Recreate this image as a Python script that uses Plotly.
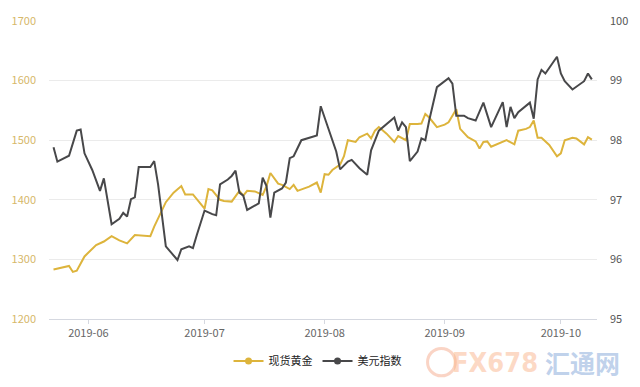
import plotly.graph_objects as go

# ---------------- data ----------------
gold_dates = [
    "2019-05-23", "2019-05-27", "2019-05-28", "2019-05-29", "2019-05-31",
    "2019-06-03", "2019-06-05", "2019-06-07", "2019-06-09", "2019-06-11",
    "2019-06-13", "2019-06-17", "2019-06-18", "2019-06-21", "2019-06-23",
    "2019-06-25", "2019-06-26", "2019-06-28",
    "2019-07-01", "2019-07-02", "2019-07-03", "2019-07-05", "2019-07-06",
    "2019-07-08", "2019-07-10", "2019-07-11", "2019-07-12", "2019-07-14",
    "2019-07-16", "2019-07-17", "2019-07-18", "2019-07-20", "2019-07-21",
    "2019-07-23", "2019-07-24", "2019-07-25", "2019-07-28", "2019-07-30",
    "2019-07-31",
    "2019-08-01", "2019-08-02", "2019-08-03", "2019-08-05", "2019-08-06",
    "2019-08-07", "2019-08-09", "2019-08-10", "2019-08-12", "2019-08-13",
    "2019-08-14", "2019-08-15", "2019-08-17", "2019-08-19", "2019-08-20",
    "2019-08-22", "2019-08-23", "2019-08-25", "2019-08-26", "2019-08-27",
    "2019-08-28", "2019-08-30",
    "2019-09-01", "2019-09-02", "2019-09-04", "2019-09-05", "2019-09-07",
    "2019-09-09", "2019-09-10", "2019-09-11", "2019-09-12", "2019-09-13",
    "2019-09-15", "2019-09-17", "2019-09-19", "2019-09-20", "2019-09-22",
    "2019-09-23", "2019-09-24", "2019-09-25", "2019-09-26", "2019-09-28",
    "2019-09-30",
    "2019-10-01", "2019-10-02", "2019-10-04", "2019-10-05", "2019-10-07",
    "2019-10-08", "2019-10-09",
]
gold_values = [
    1283, 1289, 1279, 1281, 1305,
    1324, 1330, 1339, 1332, 1327,
    1341, 1339, 1355, 1396, 1412,
    1423, 1409, 1409,
    1385, 1418, 1416, 1400, 1398,
    1397, 1415, 1407, 1415, 1414,
    1408, 1423, 1445, 1427, 1425,
    1418, 1425, 1415, 1422, 1429,
    1412,
    1443, 1442, 1450, 1459, 1473,
    1500, 1497, 1505, 1511, 1503,
    1516, 1522, 1511, 1497, 1507,
    1500, 1527, 1527, 1528, 1544,
    1538, 1522,
    1526, 1530, 1552, 1519, 1505,
    1498, 1486, 1497, 1498, 1489,
    1494, 1500, 1493, 1516, 1519,
    1522, 1533, 1504, 1504, 1492,
    1473,
    1478, 1500, 1504, 1503, 1493,
    1505, 1501,
]

usd_dates = [
    "2019-05-23", "2019-05-24", "2019-05-27", "2019-05-29", "2019-05-30",
    "2019-05-31",
    "2019-06-02", "2019-06-04", "2019-06-05", "2019-06-07", "2019-06-09",
    "2019-06-10", "2019-06-11", "2019-06-12", "2019-06-13", "2019-06-14",
    "2019-06-17", "2019-06-18", "2019-06-19", "2019-06-21", "2019-06-24",
    "2019-06-25", "2019-06-27", "2019-06-28", "2019-06-29",
    "2019-07-01", "2019-07-03", "2019-07-04", "2019-07-05", "2019-07-07",
    "2019-07-08", "2019-07-09", "2019-07-10", "2019-07-11", "2019-07-12",
    "2019-07-14", "2019-07-15", "2019-07-16", "2019-07-17", "2019-07-18",
    "2019-07-19", "2019-07-21", "2019-07-22", "2019-07-23", "2019-07-24",
    "2019-07-26", "2019-07-28", "2019-07-30", "2019-07-31",
    "2019-08-02", "2019-08-04", "2019-08-05", "2019-08-07", "2019-08-08",
    "2019-08-10", "2019-08-12", "2019-08-13", "2019-08-15", "2019-08-17",
    "2019-08-19", "2019-08-20", "2019-08-21", "2019-08-22", "2019-08-23",
    "2019-08-25", "2019-08-26", "2019-08-27", "2019-08-28", "2019-08-30",
    "2019-09-01", "2019-09-02", "2019-09-03", "2019-09-04", "2019-09-06",
    "2019-09-07", "2019-09-09", "2019-09-11", "2019-09-13", "2019-09-16",
    "2019-09-17", "2019-09-18", "2019-09-19", "2019-09-20", "2019-09-23",
    "2019-09-24", "2019-09-25", "2019-09-26", "2019-09-27", "2019-09-30",
    "2019-10-01", "2019-10-02", "2019-10-04", "2019-10-07", "2019-10-08",
    "2019-10-09",
]
usd_values = [
    97.88, 97.64, 97.74, 98.16, 98.18,
    97.78,
    97.50, 97.15, 97.36, 96.59, 96.68,
    96.78, 96.72, 97.01, 97.04, 97.55,
    97.55, 97.65, 97.26, 96.22, 95.99,
    96.17, 96.22, 96.19, 96.41,
    96.82, 96.76, 96.74, 97.26, 97.34,
    97.40, 97.49, 97.12, 97.07, 96.83,
    96.90, 96.94, 97.37, 97.23, 96.70,
    97.12, 97.19, 97.29, 97.70, 97.73,
    98.00, 98.04, 98.08, 98.57,
    98.19, 97.81, 97.51, 97.64, 97.67,
    97.53, 97.42, 97.83, 98.16, 98.27,
    98.38, 98.16, 98.30, 98.22, 97.65,
    97.81, 98.03, 98.00, 98.33, 98.89,
    98.99, 99.04, 98.95, 98.41, 98.41,
    98.37, 98.33, 98.63, 98.22, 98.64,
    98.22, 98.56, 98.37, 98.47, 98.63,
    98.36, 99.02, 99.18, 99.12, 99.40,
    99.12, 98.99, 98.85, 98.99, 99.12,
    99.02,
]

series_names = ["现货黄金", "美元指数"]
left_ticks = [1200, 1300, 1400, 1500, 1600, 1700]
right_ticks = [95, 96, 97, 98, 99, 100]
month_ticks = ["2019-06-01", "2019-07-01", "2019-08-01", "2019-09-01", "2019-10-01"]
month_labels = ["2019-06", "2019-07", "2019-08", "2019-09", "2019-10"]

# ---------------- styles ----------------
GOLD = "#ddb43c"
DARK = "#48484a"
FONT = "Noto Sans CJK SC, Noto Sans, sans-serif"

fig = go.Figure()

fig.add_trace(go.Scatter(
    x=gold_dates, y=gold_values, mode="lines", name=series_names[0],
    line=dict(color=GOLD, width=2), yaxis="y", showlegend=False,
))
fig.add_trace(go.Scatter(
    x=usd_dates, y=usd_values, mode="lines", name=series_names[1],
    line=dict(color=DARK, width=2), yaxis="y2", showlegend=False,
))
# legend-only entries (line with marker icon)
fig.add_trace(go.Scatter(
    x=[None], y=[None], mode="lines+markers", name=series_names[0],
    line=dict(color=GOLD, width=2), marker=dict(color=GOLD, size=7),
    yaxis="y",
))
fig.add_trace(go.Scatter(
    x=[None], y=[None], mode="lines+markers", name=series_names[1],
    line=dict(color=DARK, width=2), marker=dict(color=DARK, size=7),
    yaxis="y2",
))

fig.update_layout(
    width=640, height=387,
    margin=dict(l=45, r=42, t=20, b=63),
    paper_bgcolor="white", plot_bgcolor="white",
    font=dict(family=FONT, size=11, color="#666"),
    xaxis=dict(
        type="date",
        range=["2019-05-21 20:00", "2019-10-10 08:00"],
        tickvals=month_ticks, ticktext=month_labels,
        showgrid=False, zeroline=False,
        showline=True, linecolor="#d5d8e0", linewidth=1,
        ticks="outside", ticklen=4, tickcolor="#d5d8e0",
        tickfont=dict(size=11, color="#666"),
    ),
    yaxis=dict(
        range=[1200, 1700], tickvals=left_ticks,
        showgrid=True, gridcolor="#ebebeb", gridwidth=1,
        zeroline=False, showline=False, ticks="",
        tickfont=dict(size=11, color="#d6b86a"),
        ticklabelstandoff=12,
    ),
    yaxis2=dict(
        range=[95, 100], tickvals=right_ticks,
        overlaying="y", side="right",
        showgrid=False, zeroline=False, showline=False, ticks="",
        tickfont=dict(size=11, color="#555"),
        ticklabelstandoff=12,
    ),
    legend=dict(
        orientation="h", x=0.49, xanchor="center",
        y=-0.141, yanchor="middle",
        font=dict(size=11, color="#222"),
        itemwidth=30, bgcolor="rgba(0,0,0,0)",
    ),
    showlegend=True,
)

# faint watermark logo (bottom right)
fig.add_shape(
    type="circle", xref="paper", yref="paper",
    x0=(427 - 45) / 553, x1=(455 - 45) / 553,
    y0=(324 - 382) / 304, y1=(324 - 354) / 304,
    line=dict(color="rgba(245,170,140,0.5)", width=3),
    layer="above",
)
fig.add_annotation(
    text="<b>FX678</b>", xref="paper", yref="paper",
    x=(495 - 45) / 553, y=(324 - 368) / 304,
    showarrow=False, xanchor="center", yanchor="middle",
    font=dict(family="DejaVu Sans Condensed, Roboto", size=27, color="rgba(250,180,140,0.5)"),
)
fig.add_annotation(
    text="<b>汇通网</b>", xref="paper", yref="paper",
    x=(583 - 45) / 553, y=(324 - 368) / 304,
    showarrow=False, xanchor="center", yanchor="middle",
    font=dict(family="Noto Sans CJK SC", size=25, color="rgba(130,165,215,0.5)"),
)

fig.write_html("out.html")
